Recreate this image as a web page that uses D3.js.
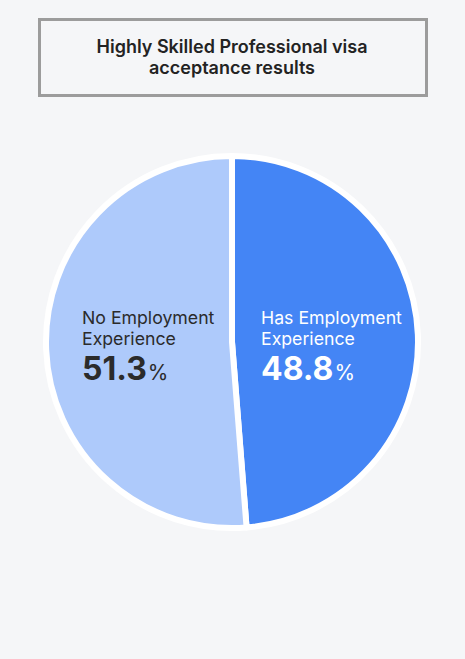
<!DOCTYPE html>
<html><head><meta charset="utf-8">
<script src="https://cdn.jsdelivr.net/npm/d3@7"></script>
<style>
html,body{margin:0;padding:0;background:#f5f6f8;}
svg{display:block;font-family:Inter,"Noto Sans",sans-serif;}
</style></head>
<body>
<script>
const titleLines = ["Highly Skilled Professional visa", "acceptance results"];
const categories = ["Has Employment Experience", "No Employment Experience"];
const labelLines = [["Has Employment", "Experience"], ["No Employment", "Experience"]];
const values = [48.8, 51.3];
const colors = ["#4485f5", "#aecafb"];
const textColors = ["#ffffff", "#2b2b2b"];

const W = 465, H = 659;
const svg = d3.select("body").append("svg").attr("width", W).attr("height", H);
svg.append("rect").attr("width", W).attr("height", H).attr("fill", "#f5f6f8");

// title box
svg.append("rect").attr("x", 39.5).attr("y", 19.5).attr("width", 387).attr("height", 76)
  .attr("fill", "none").attr("stroke", "#9c9c9c").attr("stroke-width", 3);
svg.append("text").attr("x", 232).attr("y", 53).attr("text-anchor", "middle")
  .attr("font-size", 18).attr("font-weight", 600).attr("fill", "#232323")
  .selectAll("tspan").data(titleLines).join("tspan")
  .attr("x", 232).attr("dy", (d, i) => i ? 21 : 0).text(d => d);

// pie
const cx = 232, cy = 342, R = 186;
const data = categories.map((c, i) => ({c, v: values[i], i}));
const pie = d3.pie().value(d => d.v).sort(null);
const arc = d3.arc().innerRadius(0).outerRadius(R);
const g = svg.append("g").attr("transform", `translate(${cx},${cy})`);
g.selectAll("path").data(pie(data)).join("path")
  .attr("d", arc).attr("fill", d => colors[d.data.i])
  .attr("stroke", "#ffffff").attr("stroke-width", 6).attr("stroke-linejoin", "round");

// labels
const labelX = [261, 82];
data.forEach((d, i) => {
  const t = svg.append("text").attr("fill", textColors[i]).attr("font-size", 17.7);
  labelLines[i].forEach((l, k) => {
    t.append("tspan").attr("x", labelX[i]).attr("y", 324 + k * 21).text(l);
  });
  const v = svg.append("text").attr("x", labelX[i]).attr("y", 380).attr("fill", textColors[i]);
  v.append("tspan").attr("font-size", 32).attr("font-weight", 700).text(d.v.toFixed(1));
  v.append("tspan").attr("font-size", 21).attr("dx", 1).text("%");
});
</script>
</body></html>
